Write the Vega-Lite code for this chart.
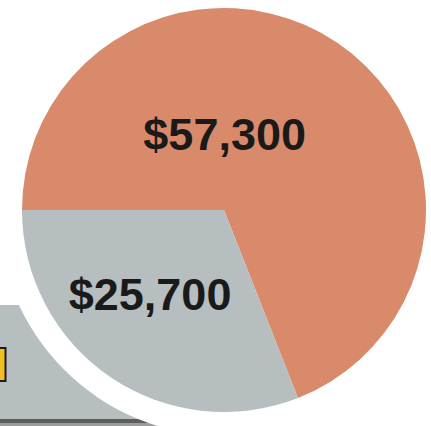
{
  "$schema": "https://vega.github.io/schema/vega-lite/v6.json",
  "width": 431,
  "height": 426,
  "autosize": "none",
  "padding": 0,
  "background": "white",
  "config": {"view": {"stroke": null}, "axis": {"disable": true}},
  "data": {"values": [
    {"segment": "Copper", "value": 57300, "label": "$57,300"},
    {"segment": "Grey", "value": 25700, "label": "$25,700"}
  ]},
  "layer": [
    {
      "data": {"values": [{}]},
      "mark": {"type": "rect", "color": "#b7bebf"},
      "encoding": {
        "x": {"datum": 0, "type": "quantitative", "scale": {"domain": [0, 431], "nice": false, "zero": false}, "axis": null},
        "x2": {"datum": 224},
        "y": {"datum": 305, "type": "quantitative", "scale": {"domain": [0, 426], "reverse": true, "nice": false, "zero": false}, "axis": null},
        "y2": {"datum": 419}
      }
    },
    {
      "data": {"values": [{}]},
      "mark": {"type": "rect", "color": "#5e5e5e"},
      "encoding": {
        "x": {"datum": 0, "type": "quantitative"},
        "x2": {"datum": 224},
        "y": {"datum": 419, "type": "quantitative"},
        "y2": {"datum": 423}
      }
    },
    {
      "data": {"values": [{}]},
      "mark": {"type": "rect", "color": "#9c9c9c"},
      "encoding": {
        "x": {"datum": 0, "type": "quantitative"},
        "x2": {"datum": 224},
        "y": {"datum": 423, "type": "quantitative"},
        "y2": {"datum": 426}
      }
    },
    {
      "data": {"values": [{}]},
      "mark": {"type": "rect", "color": "#1a1a1a"},
      "encoding": {
        "x": {"datum": 0, "type": "quantitative"},
        "x2": {"datum": 6.5},
        "y": {"datum": 347, "type": "quantitative"},
        "y2": {"datum": 382}
      }
    },
    {
      "data": {"values": [{}]},
      "mark": {"type": "rect", "color": "#f2c024"},
      "encoding": {
        "x": {"datum": 0, "type": "quantitative"},
        "x2": {"datum": 4.5},
        "y": {"datum": 349, "type": "quantitative"},
        "y2": {"datum": 380}
      }
    },
    {
      "data": {"values": [{}]},
      "mark": {"type": "arc", "fill": "white", "outerRadius": 226, "theta": 0, "theta2": 6.2832},
      "encoding": {
        "x": {"datum": 224, "type": "quantitative"},
        "y": {"datum": 210, "type": "quantitative"}
      }
    },
    {
      "mark": {"type": "arc", "outerRadius": 202},
      "encoding": {
        "theta": {"field": "value", "type": "quantitative", "stack": true, "scale": {"range": [-1.5708, 4.7124]}},
        "color": {"field": "segment", "type": "nominal", "scale": {"domain": ["Copper", "Grey"], "range": ["#d98a6b", "#b7bebf"]}, "legend": null},
        "order": {"field": "value", "sort": "descending"},
        "x": {"datum": 224, "type": "quantitative"},
        "y": {"datum": 210, "type": "quantitative"}
      }
    },
    {
      "mark": {"type": "text", "radius": 90, "dx": -50, "dy": 0, "align": "center", "baseline": "middle", "font": "Liberation Sans", "fontWeight": "bold", "fontSize": 45, "fill": "#1a1a1a"},
      "encoding": {
        "theta": {"field": "value", "type": "quantitative", "stack": true},
        "order": {"field": "value", "sort": "descending"},
        "text": {"condition": {"test": "datum.segment === 'Copper'", "field": "label"}, "value": ""},
        "x": {"datum": 224, "type": "quantitative"},
        "y": {"datum": 210, "type": "quantitative"}
      }
    },
    {
      "mark": {"type": "text", "radius": 110, "dx": -12, "dy": -5, "align": "center", "baseline": "middle", "font": "Liberation Sans", "fontWeight": "bold", "fontSize": 45, "fill": "#1a1a1a"},
      "encoding": {
        "theta": {"field": "value", "type": "quantitative", "stack": true},
        "order": {"field": "value", "sort": "descending"},
        "text": {"condition": {"test": "datum.segment === 'Grey'", "field": "label"}, "value": ""},
        "x": {"datum": 224, "type": "quantitative"},
        "y": {"datum": 210, "type": "quantitative"}
      }
    }
  ]
}
